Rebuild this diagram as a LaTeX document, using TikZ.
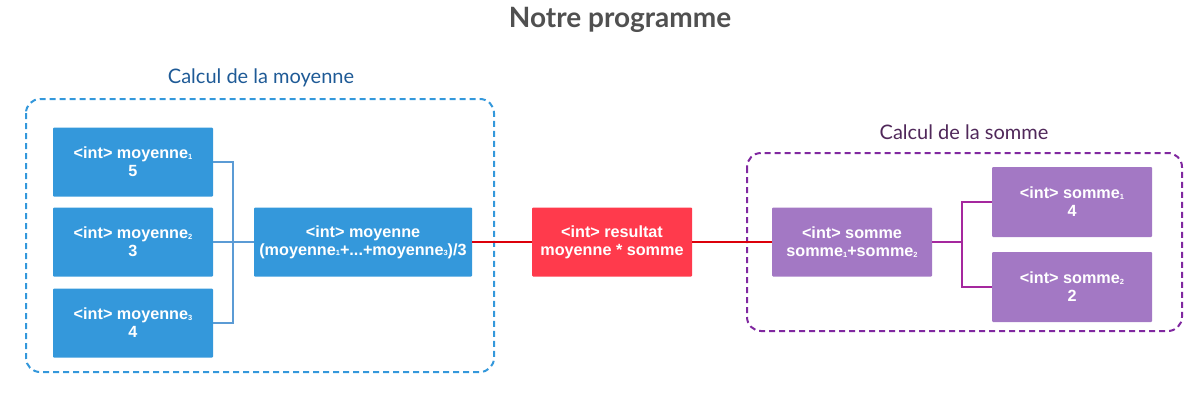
\documentclass[tikz,border=0pt]{standalone}
\usepackage{fontspec}
\setmainfont{Liberation Sans}
\newfontfamily\lato{Lato}
\definecolor{bbox}{RGB}{52,152,219}
\definecolor{bline}{RGB}{91,155,213}
\definecolor{rbox}{RGB}{255,58,76}
\definecolor{rline}{RGB}{220,0,10}
\definecolor{pbox}{RGB}{163,120,196}
\definecolor{pline}{RGB}{165,40,158}
\definecolor{pdash}{RGB}{128,40,160}
\definecolor{blabel}{RGB}{30,90,150}
\definecolor{plabel}{RGB}{80,40,90}
\definecolor{title}{RGB}{80,80,80}
\newcommand{\sbs}[1]{\raisebox{-0.5pt}{\fontsize{7.5}{7.5}\selectfont #1}}
\tikzset{
  box/.style={minimum width=#1, minimum height=69pt, inner sep=0pt, text=white, align=center,
    font=\fontsize{16.2}{18}\selectfont\bfseries, rounded corners=1pt},
  bluebox/.style={box=160pt, fill=bbox},
  redbox/.style={box=160pt, fill=rbox},
  purplebox/.style={box=160pt, fill=pbox},
  group/.style={line width=2pt, rounded corners=14pt, dash pattern=on 6pt off 4pt},
  link/.style={line width=2pt},
}
\begin{document}
\begin{tikzpicture}[x=1pt,y=-1pt]
\useasboundingbox (0,0) rectangle (1203,418);
\node[font=\lato\bfseries\fontsize{28}{32}\selectfont, text=title] (t) at (620,20) {Notre programme};
% group frames
\draw[group, draw=bbox] (26,99) rectangle (494,372);
\node[font=\lato\fontsize{20}{24}\selectfont, text=blabel] (lm) at (261,78) {Calcul de la moyenne};
\draw[group, draw=pdash] (747,153) rectangle (1182,331);
\node[font=\lato\fontsize{20}{24}\selectfont, text=plabel] (ls) at (964,132) {Calcul de la somme};
% blue nodes
\node[bluebox] (m1) at (133,162) {<int> moyenne\sbs{1}\\5};
\node[bluebox] (m2) at (133,242) {<int> moyenne\sbs{2}\\3};
\node[bluebox] (m3) at (133,323) {<int> moyenne\sbs{3}\\4};
\node[box=218pt, fill=bbox] (m) at (363,242) {<int> moyenne\\(moyenne\sbs{1}+...+moyenne\sbs{3})/3};
% red
\node[redbox] (r) at (612,242) {<int> resultat\\moyenne * somme};
% purple
\node[purplebox] (s) at (852,242) {<int> somme\\somme\sbs{1}+somme\sbs{2}};
\node[purplebox, minimum height=70pt] (s1) at (1072,202) {<int> somme\sbs{1}\\4};
\node[purplebox, minimum height=70pt] (s2) at (1072,287) {<int> somme\sbs{2}\\2};
% connectors
\coordinate (bx) at (233,242);
\draw[link, bline] (m1.east) -| (bx) (m3.east) -| (bx) (m2.east) -- (m.west);
\draw[link, rline] (m.east) -- (r.west) (r.east) -- (s.west);
\coordinate (px) at (962,242);
\draw[link, pline] (s.east) -- (px) (s1.west) -| (px) (s2.west) -| (px);
\end{tikzpicture}
\end{document}
